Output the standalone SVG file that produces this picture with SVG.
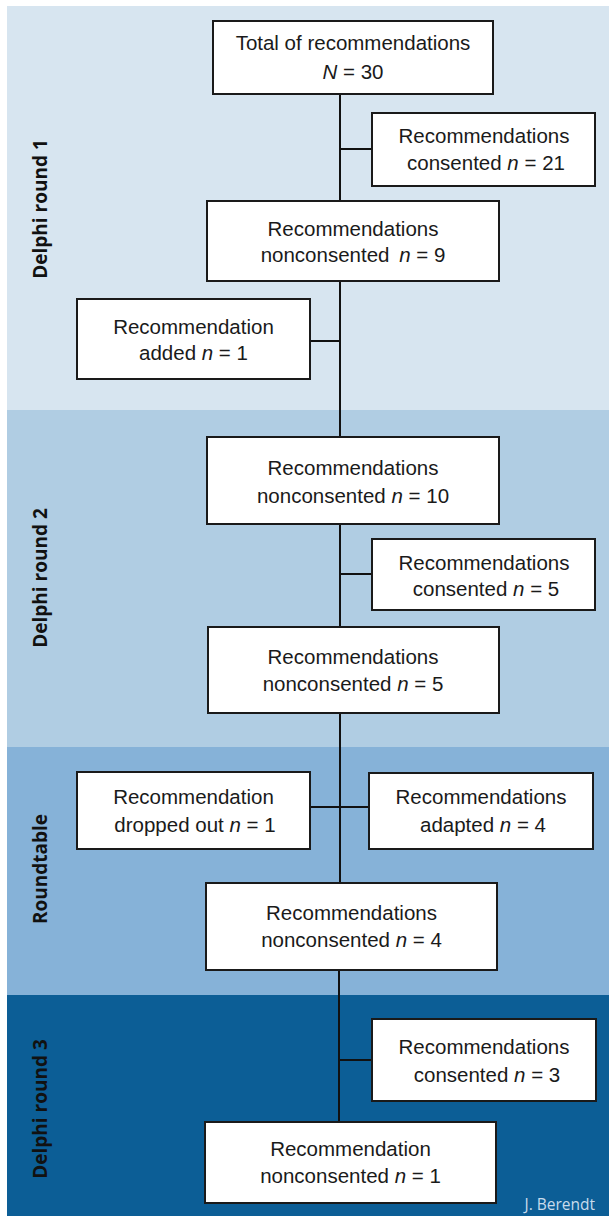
<svg xmlns="http://www.w3.org/2000/svg" width="609" height="1216" viewBox="0 0 609 1216">
<style>
.box{fill:#ffffff;stroke:#1a1a1a;stroke-width:2}
.t{font-family:"Liberation Sans",Arial,sans-serif;font-size:20.5px;fill:#1a1a1a;text-anchor:middle}
.lab{font-family:"Open Sans","Liberation Sans",sans-serif;font-weight:700;font-size:19px;fill:#111111;text-anchor:middle}
.ln{stroke:#111111;stroke-width:2;fill:none}
</style>
<rect x="0" y="0" width="609" height="1216" fill="#ffffff"/>
<g id="bands">
<rect x="7" y="6" width="602" height="404" fill="#d7e5f0"/>
<rect x="7" y="410" width="602" height="337" fill="#b0cde3"/>
<rect x="7" y="747" width="602" height="248" fill="#86b2d8"/>
<rect x="7" y="995" width="602" height="221" fill="#0c5e96"/>
</g>
<g id="phase-labels">
<text class="lab" transform="translate(47,209) rotate(-90)">Delphi round 1</text>
<text class="lab" transform="translate(47,578) rotate(-90)">Delphi round 2</text>
<text class="lab" transform="translate(47,869) rotate(-90)">Roundtable</text>
<text class="lab" transform="translate(47,1109) rotate(-90)">Delphi round 3</text>
</g>
<g id="connectors">
<path class="ln" d="M340,94 V201 M340,149 H372"/>
<path class="ln" d="M340,281 V437 M340,341 H310"/>
<path class="ln" d="M340,524 V627 M340,574 H372"/>
<path class="ln" d="M340,713 V883 M310,807 H369"/>
<path class="ln" d="M339,970 V1122 M339,1060 H372"/>
</g>
<g id="n-total">
<rect class="box" x="213" y="21" width="280" height="73"/>
<text class="t" x="353" y="50">Total of recommendations</text>
<text class="t" x="353" y="79"><tspan font-style="italic">N</tspan> = 30</text>
</g>
<g id="n-consented21">
<rect class="box" x="372" y="113" width="223" height="73"/>
<text class="t" x="484" y="143">Recommendations</text>
<text class="t" x="486" y="170">consented <tspan font-style="italic">n</tspan> = 21</text>
</g>
<g id="n-noncons9">
<rect class="box" x="207" y="201" width="292" height="80"/>
<text class="t" x="353" y="236">Recommendations</text>
<text class="t" x="353" y="262">nonconsented  <tspan font-style="italic" dx="4">n</tspan> = 9</text>
</g>
<g id="n-added">
<rect class="box" x="77" y="299" width="233" height="80"/>
<text class="t" x="193.5" y="334">Recommendation</text>
<text class="t" x="193.5" y="360">added <tspan font-style="italic">n</tspan> = 1</text>
</g>
<g id="n-noncons10">
<rect class="box" x="207" y="437" width="292" height="87"/>
<text class="t" x="353" y="475">Recommendations</text>
<text class="t" x="353" y="503">nonconsented <tspan font-style="italic">n</tspan> = 10</text>
</g>
<g id="n-consented5">
<rect class="box" x="372" y="539" width="223" height="71"/>
<text class="t" x="484" y="570">Recommendations</text>
<text class="t" x="486" y="596">consented <tspan font-style="italic">n</tspan> = 5</text>
</g>
<g id="n-noncons5">
<rect class="box" x="208" y="627" width="291" height="86"/>
<text class="t" x="353" y="664">Recommendations</text>
<text class="t" x="353" y="691">nonconsented <tspan font-style="italic">n</tspan> = 5</text>
</g>
<g id="n-dropped">
<rect class="box" x="77" y="772" width="233" height="77"/>
<text class="t" x="193.5" y="804">Recommendation</text>
<text class="t" x="195" y="832">dropped out <tspan font-style="italic">n</tspan> = 1</text>
</g>
<g id="n-adapted">
<rect class="box" x="369" y="773" width="224" height="76"/>
<text class="t" x="481" y="804">Recommendations</text>
<text class="t" x="483" y="832">adapted <tspan font-style="italic">n</tspan> = 4</text>
</g>
<g id="n-noncons4">
<rect class="box" x="206" y="883" width="291" height="87"/>
<text class="t" x="351.5" y="920">Recommendations</text>
<text class="t" x="351.5" y="947">nonconsented <tspan font-style="italic">n</tspan> = 4</text>
</g>
<g id="n-consented3">
<rect class="box" x="372" y="1019" width="224" height="82"/>
<text class="t" x="484" y="1054">Recommendations</text>
<text class="t" x="487" y="1082">consented <tspan font-style="italic">n</tspan> = 3</text>
</g>
<g id="n-noncons1">
<rect class="box" x="205" y="1122" width="291" height="81"/>
<text class="t" x="350.5" y="1156">Recommendation</text>
<text class="t" x="350.5" y="1183">nonconsented <tspan font-style="italic">n</tspan> = 1</text>
</g>
<text x="595" y="1210" font-family="'Open Sans','Liberation Sans',sans-serif" font-size="15.5" fill="#c8dbec" text-anchor="end">J. Berendt</text>
</svg>
